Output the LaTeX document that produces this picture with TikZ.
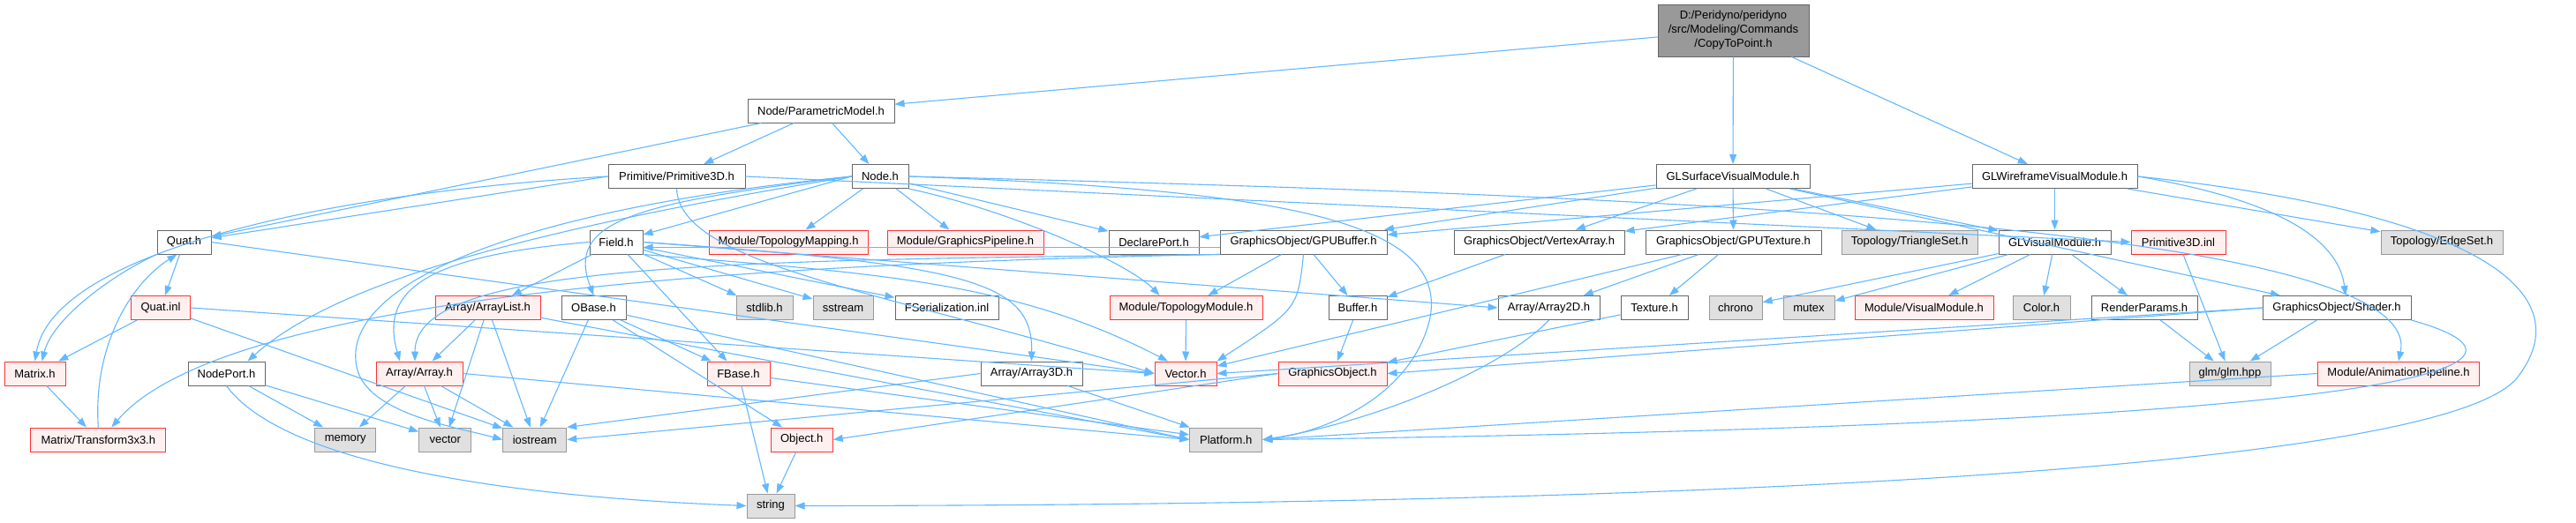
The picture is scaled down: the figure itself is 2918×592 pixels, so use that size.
\documentclass[tikz,border=0pt]{standalone}
\usepackage{fontspec}
\setmainfont{Liberation Sans}
\usetikzlibrary{arrows.meta}
\definecolor{edgec}{HTML}{63B8FF}
\definecolor{redfill}{HTML}{FFF0F0}
\definecolor{redline}{HTML}{FF3030}
\definecolor{grayfill}{HTML}{E0E0E0}
\definecolor{grayline}{HTML}{999999}
\definecolor{whiteline}{HTML}{666666}
\definecolor{rootfill}{HTML}{999999}
\tikzset{
  box/.style={rectangle, inner sep=0pt, minimum height=27pt, line width=1.0pt, font=\fontsize{13pt}{16pt}\selectfont},
  wbox/.style={box, draw=whiteline, fill=white},
  rbox/.style={box, draw=redline, fill=redfill},
  gbox/.style={box, draw=grayline, fill=grayfill},
  rootbox/.style={box, draw=whiteline, fill=rootfill, minimum height=59pt, align=center},
  edge/.style={draw=edgec, line width=1.1pt, -{Triangle[length=11pt,width=8pt]}}
}
\newcommand{\nd}[6]{\node[#5, minimum width=#4pt] (#1) at (#2,#3) {#6};}
\begin{document}
\begin{tikzpicture}[x=1pt,y=-1pt]
\fill[white] (0,0) rectangle (2918,592);
\useasboundingbox (0,0) rectangle (2918,592);
% row 0
\nd{nCtp}{1963.5}{34.5}{171}{rootbox}{D:/Peridyno/peridyno\\/src/Modeling/Commands\\/CopyToPoint.h}
% row 1
\nd{nPm}{930}{125.5}{166}{wbox}{Node/ParametricModel.h}
% row 2
\nd{nPrim}{766.5}{200}{155}{wbox}{Primitive/Primitive3D.h}
\nd{nNode}{997}{200}{64}{wbox}{Node.h}
\nd{nGls}{1963}{200}{174}{wbox}{GLSurfaceVisualModule.h}
\nd{nGlw}{2327.5}{200}{187}{wbox}{GLWireframeVisualModule.h}
% row 3
\nd{nQuat}{208.5}{274.5}{61}{wbox}{Quat.h}
\nd{nField}{698}{274.5}{60}{wbox}{Field.h}
\nd{nTmap}{893}{274.5}{180}{rbox}{Module/TopologyMapping.h}
\nd{nGpipe}{1093.5}{274.5}{177}{rbox}{Module/GraphicsPipeline.h}
\nd{nDport}{1307}{274.5}{102}{wbox}{DeclarePort.h}
\nd{nGpubuf}{1476.5}{274.5}{189}{wbox}{GraphicsObject/GPUBuffer.h}
\nd{nVarr}{1743.5}{274.5}{193}{wbox}{GraphicsObject/VertexArray.h}
\nd{nGputex}{1963.5}{274.5}{199}{wbox}{GraphicsObject/GPUTexture.h}
\nd{nTriset}{2163}{274.5}{154}{gbox}{Topology/TriangleSet.h}
\nd{nGlvis}{2327.5}{274.5}{127}{wbox}{GLVisualModule.h}
\nd{nPriminl}{2467.5}{274.5}{107}{rbox}{Primitive3D.inl}
\nd{nEdgeset}{2766}{274.5}{138}{gbox}{Topology/EdgeSet.h}
% row 4
\nd{nQuatinl}{182}{349}{67}{rbox}{Quat.inl}
\nd{nAlist}{552.5}{349}{119}{rbox}{Array/ArrayList.h}
\nd{nObase}{672.5}{349}{73}{wbox}{OBase.h}
\nd{nStdlib}{866}{349}{64}{gbox}{stdlib.h}
\nd{nSstream}{955}{349}{68}{gbox}{sstream}
\nd{nFser}{1072.5}{349}{117}{wbox}{FSerialization.inl}
\nd{nTmod}{1343.5}{349}{173}{rbox}{Module/TopologyModule.h}
\nd{nBuffer}{1538}{349}{66}{wbox}{Buffer.h}
\nd{nArrtwo}{1754.5}{349}{115}{wbox}{Array/Array2D.h}
\nd{nTexture}{1874}{349}{76}{wbox}{Texture.h}
\nd{nChrono}{1966}{349}{60}{gbox}{chrono}
\nd{nMutex}{2049}{349}{58}{gbox}{mutex}
\nd{nVmod}{2179.5}{349}{157}{rbox}{Module/VisualModule.h}
\nd{nColor}{2312.5}{349}{65}{gbox}{Color.h}
\nd{nRparams}{2429}{349}{120}{wbox}{RenderParams.h}
\nd{nShader}{2647}{349}{168}{wbox}{GraphicsObject/Shader.h}
% row 5
\nd{nMatrix}{39.5}{423.5}{69}{rbox}{Matrix.h}
\nd{nNodeport}{256.5}{423.5}{87}{wbox}{NodePort.h}
\nd{nArray}{475}{423.5}{98}{rbox}{Array/Array.h}
\nd{nFbase}{836.5}{423.5}{71}{rbox}{FBase.h}
\nd{nArrthree}{1168.5}{423.5}{115}{wbox}{Array/Array3D.h}
\nd{nVech}{1343}{423.5}{70}{rbox}{Vector.h}
\nd{nGobj}{1509.5}{423.5}{123}{rbox}{GraphicsObject.h}
\nd{nGlm}{2526}{423.5}{92}{gbox}{glm/glm.hpp}
\nd{nAnim}{2717}{423.5}{183}{rbox}{Module/AnimationPipeline.h}
% row 6
\nd{nTthree}{111.3}{498.5}{153}{rbox}{Matrix/Transform3x3.h}
\nd{nMemory}{391.25}{498.5}{69}{gbox}{memory}
\nd{nVecstd}{504.25}{498.5}{59}{gbox}{vector}
\nd{nIostream}{605.75}{498.5}{72}{gbox}{iostream}
\nd{nObject}{908.25}{498.5}{70}{rbox}{Object.h}
\nd{nPlatform}{1388.75}{498.5}{82}{gbox}{Platform.h}
% row 7
\nd{nString}{873}{573.5}{54}{gbox}{string}

% ---------- edges ----------
\draw[edge] (nCtp) -- (nPm);
\draw[edge] (nCtp) -- (nGls);
\draw[edge] (nCtp) -- (nGlw);
\draw[edge] (nPm) -- (nQuat);
\draw[edge] (nPm) -- (nPrim);
\draw[edge] (nPm) -- (nNode);
% Primitive3D.h
\draw[edge] (nPrim.west) -- (nQuat);
\draw[edge] (nPrim.west) .. controls (350,220) and (60,290) .. (nMatrix.north);
\draw[edge] (nPrim.south) .. controls (770,300) and (1000,330) .. (nVech.west);
\draw[edge] (nPrim.east) -- (nPriminl.west);
% Node.h
\draw[edge] (nNode.west) -- (nField);
\draw[edge] (nNode.west) .. controls (720,230) and (640,250) .. (nObase.north);
\draw[edge] (nNode.west) .. controls (600,260) and (380,320) .. ([xshift=-20pt]nNodeport.north east);
\draw[edge] (nNode.west) .. controls (560,240) and (380,330) .. (405,420) .. controls (420,470) and (520,485) .. (nIostream.west);
\draw[edge] (nNode) -- (nTmap);
\draw[edge] (nNode) -- (nGpipe);
\draw[edge] (nNode) -- (nDport);
\draw[edge] (nNode.south east) .. controls (1150,240) and (1280,300) .. ([xshift=-30pt]nTmod.north);
\draw[edge] (nNode.east) .. controls (1450,215) and (1640,250) .. (1620,360) .. controls (1600,450) and (1500,490) .. (nPlatform.east);
\draw[edge] (nNode.east) .. controls (1800,220) and (2750,250) .. (nAnim.north);
% Quat.h
\draw[edge] (nQuat) -- (nQuatinl);
\draw[edge] (nQuat.south west) .. controls (130,310) and (60,360) .. ([xshift=8pt]nMatrix.north);
\draw[edge] (nQuat.east) -- (nVech.west);
\draw[edge] (nQuatinl) -- (nMatrix);
\draw[edge] (nQuatinl) -- (nIostream);
\draw[edge] (nQuatinl.east) -- (nVech.west);
\draw[edge] (nMatrix) -- (nTthree);
\draw[edge] (nTthree.north) .. controls (105,390) and (150,320) .. ([xshift=-8pt]nQuat.south);
% GPUBuffer.h
\draw[edge] (nGpubuf.south west) .. controls (800,300) and (250,340) .. ([xshift=15pt]nTthree.north);
\draw[edge] (nGpubuf.south west) .. controls (800,295) and (470,300) .. ([xshift=-5pt]nArray.north);
\draw[edge] ([yshift=-6pt]nGpubuf.west) -- ([yshift=-6pt]nField.east);
\draw[edge] (nGpubuf) -- (nTmod);
\draw[edge] (nGpubuf.south) .. controls (1470,350) .. (nVech.north east);
\draw[edge] (nGpubuf) -- (nBuffer);
% Field.h
\draw[edge] (nField) -- (nAlist);
\draw[edge] (nField.west) .. controls (480,290) and (430,330) .. ([xshift=-22pt]nArray.north);
\draw[edge] (nField) -- (nFbase);
\draw[edge] (nField) -- (nStdlib);
\draw[edge] (nField) -- (nSstream);
\draw[edge] (nField) -- (nFser);
\draw[edge] (nField.east) -- (nArrtwo.west);
\draw[edge] (nField.east) .. controls (1100,300) and (1170,320) .. (nArrthree.north);
\draw[edge] (nField.south east) .. controls (1000,310) and (1150,320) .. ([xshift=-20pt]nVech.north);
% Array
\draw[edge] (nAlist) -- (nArray);
\draw[edge] (nAlist) -- (nVecstd);
\draw[edge] (nAlist) -- (nIostream);
\draw[edge] (nAlist) -- (nPlatform.west);
\draw[edge] (nArray) -- (nMemory);
\draw[edge] (nArray) -- (nVecstd);
\draw[edge] (nArray) -- (nIostream);
\draw[edge] (nArray.east) -- (nPlatform.west);
% OBase
\draw[edge] (nObase) -- (nFbase);
\draw[edge] (nObase) -- (nIostream);
\draw[edge] (nObase) -- (nObject);
\draw[edge] (nObase) -- (nPlatform.west);
% NodePort
\draw[edge] (nNodeport) -- (nMemory);
\draw[edge] (nNodeport) -- (nVecstd);
\draw[edge] (nNodeport.south) .. controls (310,510) and (500,560) .. (nString.west);
% misc
\draw[edge] (nFbase) -- (nString);
\draw[edge] (nFbase) -- (nPlatform);
\draw[edge] (nArrthree) -- (nPlatform);
\draw[edge] (nArrthree.west) -- (nIostream.north east);
\draw[edge] (nObject) -- (nString);
\draw[edge] (nTmod) -- (nVech);
\draw[edge] (nBuffer) -- (nGobj);
\draw[edge] (nGobj.west) -- (nObject.east);
\draw[edge] (nGobj.west) -- (nIostream.east);
\draw[edge] (nArrtwo.south) .. controls (1700,420) and (1550,480) .. (nPlatform.east);
\draw[edge] (nTexture) -- (nGobj);
% GLSurfaceVisualModule.h
\draw[edge] (nGls) -- (nDport);
\draw[edge] (nGls) -- (nGpubuf);
\draw[edge] (nGls) -- (nVarr);
\draw[edge] (nGls) -- (nGputex);
\draw[edge] (nGls) -- (nTriset);
\draw[edge] (nGls) -- (nGlvis);
\draw[edge] (nGls) -- (nShader);
% GLWireframeVisualModule.h
\draw[edge] (nGlw) -- (nGpubuf);
\draw[edge] (nGlw) -- (nVarr);
\draw[edge] (nGlw) -- (nGlvis);
\draw[edge] (nGlw) -- (nEdgeset);
\draw[edge] (nGlw.east) .. controls (2600,230) and (2650,280) .. ([xshift=10pt]nShader.north);
\draw[edge] (nGlw.east) .. controls (2800,240) and (2930,330) .. (2850,430) .. controls (2750,540) and (1800,573) .. (nString.east);
% VertexArray / GPUTexture
\draw[edge] (nVarr) -- (nBuffer);
\draw[edge] (nGputex) -- (nArrtwo);
\draw[edge] (nGputex) -- (nTexture);
\draw[edge] (nGputex) -- (nVech);
% GLVisualModule.h
\draw[edge] (nGlvis) -- (nChrono);
\draw[edge] (nGlvis) -- (nMutex);
\draw[edge] (nGlvis) -- (nVmod);
\draw[edge] (nGlvis) -- (nColor);
\draw[edge] (nGlvis) -- (nRparams);
% glm and shader
\draw[edge] (nPriminl) -- (nGlm);
\draw[edge] (nRparams) -- (nGlm);
\draw[edge] (nShader) -- (nGlm);
\draw[edge] (nShader.west) -- (nVech.east);
\draw[edge] (nShader.west) -- (nGobj.east);
\draw[edge] (nShader.south east) .. controls (2900,410) and (2800,480) .. (nPlatform.east);
\draw[edge] (nAnim.west) -- (nPlatform.east);
\end{tikzpicture}
\end{document}
